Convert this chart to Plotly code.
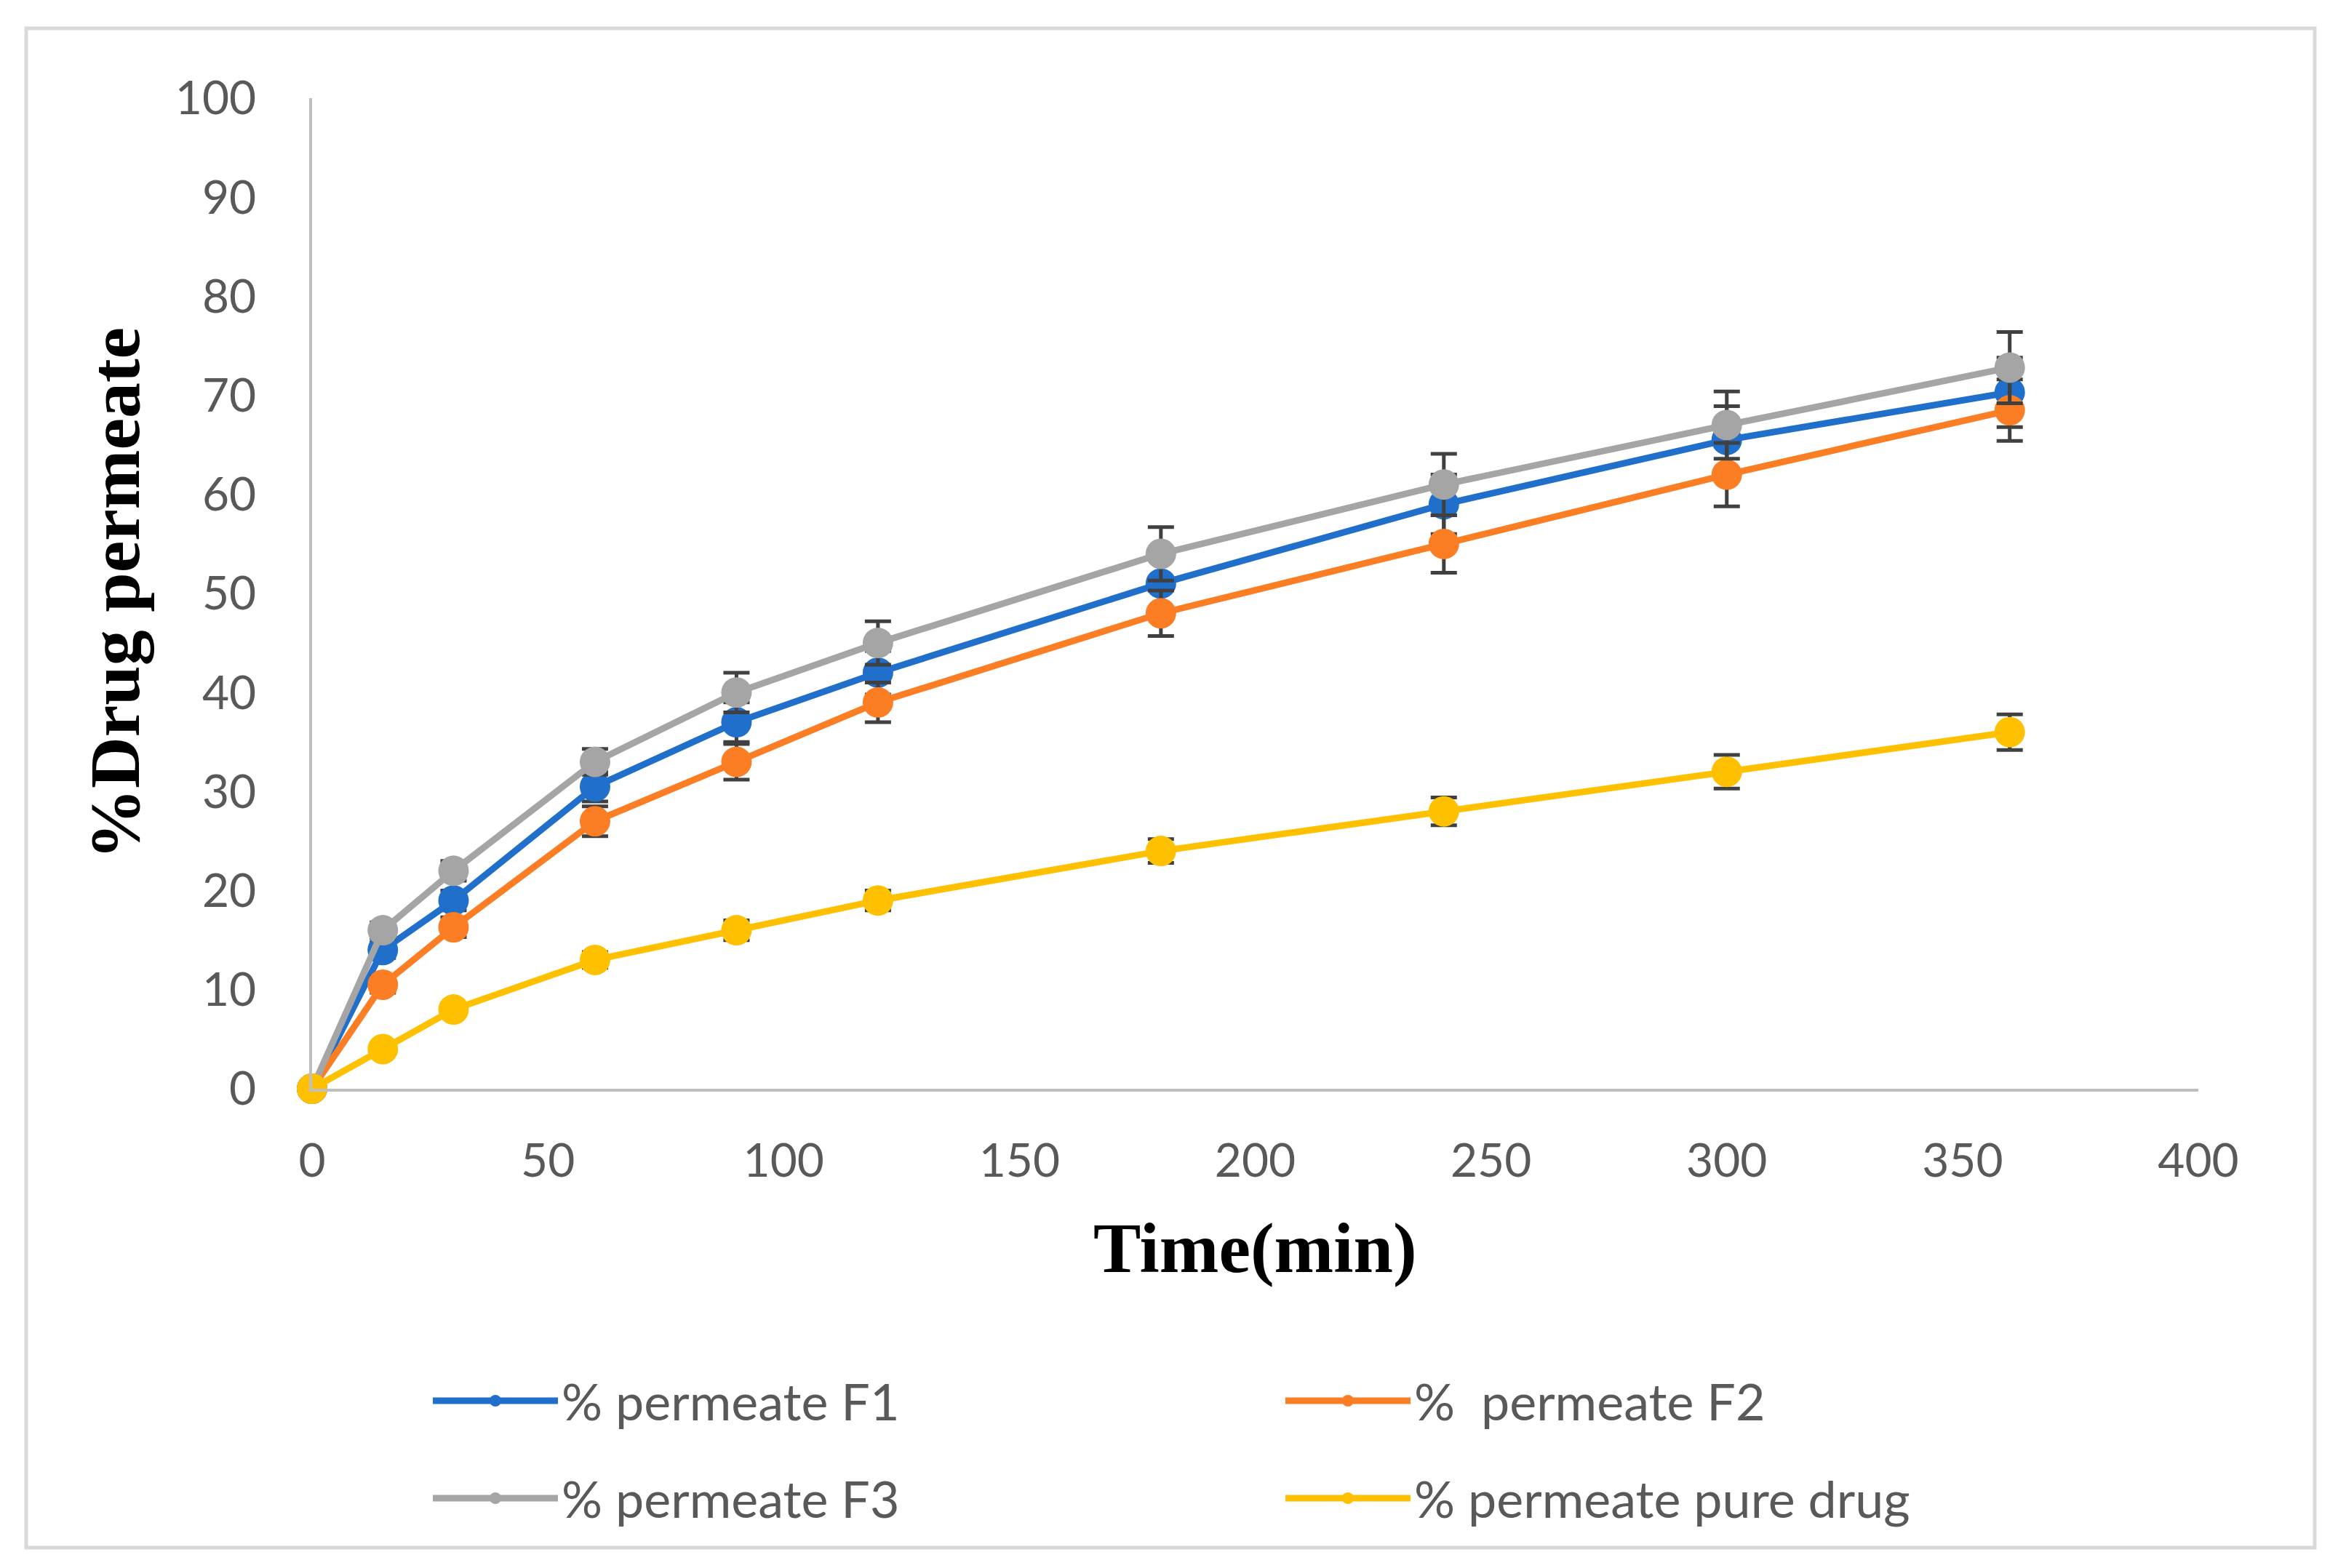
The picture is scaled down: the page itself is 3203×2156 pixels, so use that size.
import plotly.graph_objects as go

time_min = [0, 15, 30, 60, 90, 120, 180, 240, 300, 360]
f1 = [0, 14.0, 19.0, 30.5, 37.0, 42.0, 51.0, 59.0, 65.5, 70.3]
f2 = [0, 10.5, 16.3, 27.0, 33.0, 39.0, 48.0, 55.0, 62.0, 68.5]
f3 = [0, 16.0, 22.0, 33.0, 40.0, 45.0, 54.0, 61.0, 67.0, 72.8]
pure = [0, 4.0, 8.0, 13.0, 16.0, 19.0, 24.0, 28.0, 32.0, 36.0]

f1_err = [0, 0.8, 1.0, 1.5, 2.0, 2.2, 2.6, 3.0, 3.4, 3.5]
f2_err = [0, 0.8, 1.0, 1.5, 1.8, 2.0, 2.3, 2.9, 3.2, 3.1]
f3_err = [0, 0.8, 1.0, 1.3, 2.0, 2.2, 2.7, 3.1, 3.4, 3.6]
pure_err = [0, 0.5, 0.6, 0.8, 1.0, 1.0, 1.2, 1.4, 1.7, 1.8]

names = ["% permeate F1", "%  permeate F2", "% permeate F3", "% permeate pure drug"]
colors = ["#1f6fcb", "#fb7d24", "#a5a5a5", "#ffc000"]
series = [f1, f2, f3, pure]
errors = [f1_err, f2_err, f3_err, pure_err]
legend_ids = ["legend", "legend2", "legend3", "legend4"]

W, H = 3203, 2156
L, R, T, B = 421, 189, 127, 667
pw, ph = W - L - R, H - T - B

fig = go.Figure()
for nm, c, ys, er, lg in zip(names, colors, series, errors, legend_ids):
    fig.add_trace(go.Scatter(
        x=time_min, y=ys, name=nm, mode="lines+markers",
        line=dict(color=c, width=9),
        marker=dict(color=c, size=42),
        error_y=dict(type="data", array=er, visible=True, color="#404040",
                     thickness=5, width=18),
        cliponaxis=False, legend=lg,
    ))

tick_font = dict(family="Lato, Liberation Sans, sans-serif", size=64, color="#595959")
leg_font = dict(family="Lato, Liberation Sans, sans-serif", size=70, color="#595959")

# legend positions (pixels): column left edges and row centres
col_x = [582, 1754, 582, 1754]
row_y = [1918, 1918, 2052, 2052]
legend_layout = {}
for lg, cx, ry in zip(legend_ids, col_x, row_y):
    legend_layout[lg] = dict(orientation="h", x=(cx - L) / pw, y=(1489 - ry) / ph,
                             xanchor="left", yanchor="middle", itemwidth=172,
                             font=leg_font, bgcolor="rgba(0,0,0,0)")

fig.update_layout(
    width=W, height=H,
    margin=dict(l=L, r=R, t=T, b=B, autoexpand=False),
    paper_bgcolor="white", plot_bgcolor="white",
    showlegend=True,
    xaxis=dict(range=[0, 400], tickvals=list(range(0, 401, 50)), showgrid=False,
               zeroline=False, showline=True, linecolor="#bfbfbf", linewidth=4,
               ticks="", tickfont=tick_font, ticklabelstandoff=40),
    yaxis=dict(range=[0, 100], tickvals=list(range(0, 101, 10)), showgrid=False,
               zeroline=False, showline=True, linecolor="#bfbfbf", linewidth=4,
               ticks="", tickfont=tick_font, ticklabelstandoff=60),
    annotations=[
        dict(text="<b>Time(min)</b>", xref="paper", yref="paper",
             x=0.5, y=(1489 - 1708) / ph, xanchor="center", yanchor="middle",
             showarrow=False, font=dict(family="Liberation Serif, Times New Roman, serif",
                                        size=98, color="black")),
        dict(text="<b>%Drug permeate</b>", xref="paper", yref="paper",
             x=(150 - L) / pw, y=0.5, xanchor="center", yanchor="middle", textangle=-90,
             showarrow=False, font=dict(family="Liberation Serif, Times New Roman, serif",
                                        size=98, color="black")),
    ],
    shapes=[dict(type="rect", xref="paper", yref="paper",
                 x0=(28 - L) / pw, x1=(3174 - L) / pw,
                 y0=(1489 - 2120) / ph, y1=(1489 - 31) / ph,
                 line=dict(color="#d9d9d9", width=5), fillcolor="rgba(0,0,0,0)",
                 layer="below")],
    **legend_layout,
)
fig.write_html("out.html")
